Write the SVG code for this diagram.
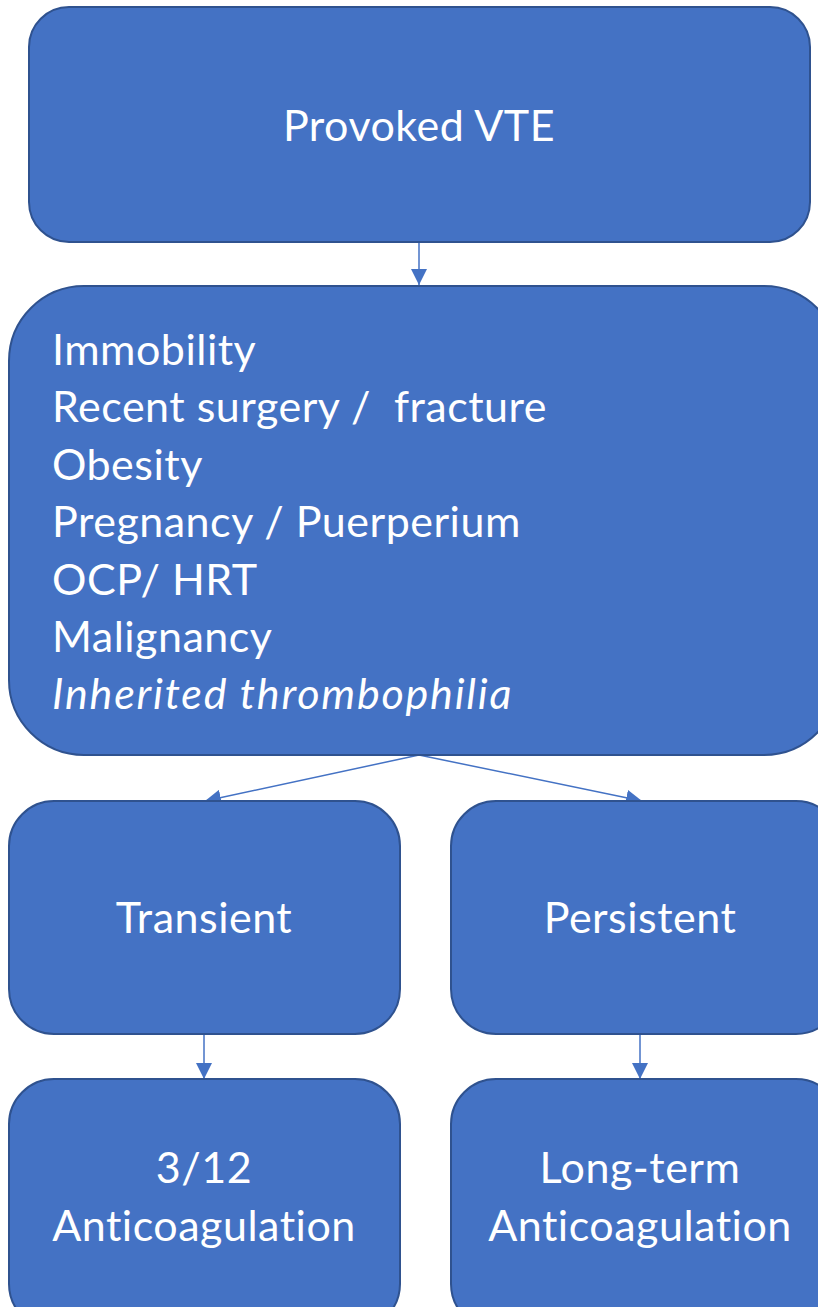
<svg xmlns="http://www.w3.org/2000/svg" width="818" height="1307" viewBox="0 0 818 1307">
<defs>
<style>
.box{fill:#4472C4;stroke:#2F528F;stroke-width:2}
.t{fill:#fff;font-family:Lato,"Open Sans","Liberation Sans",sans-serif;font-size:43px;letter-spacing:0.5px;font-variant-ligatures:none}
.c{text-anchor:middle}
.ln{stroke:#4472C4;stroke-width:1.5;fill:none}
</style>
<marker id="ah2" viewBox="0 0 16 16" refX="16" refY="8" markerWidth="16" markerHeight="16" markerUnits="userSpaceOnUse" orient="auto">
<path d="M0,0L16,8L0,16Z" fill="#4472C4"/>
</marker>
</defs>
<g id="connectors">
<line class="ln" x1="419" y1="243" x2="419" y2="285" marker-end="url(#ah2)"/>
<line class="ln" x1="419" y1="755" x2="205" y2="801" marker-end="url(#ah2)"/>
<line class="ln" x1="419" y1="755" x2="642" y2="801" marker-end="url(#ah2)"/>
<line class="ln" x1="204" y1="1034" x2="204" y2="1079" marker-end="url(#ah2)"/>
<line class="ln" x1="640" y1="1034" x2="640" y2="1079" marker-end="url(#ah2)"/>
</g>
<g id="provoked">
<rect class="box" x="29" y="7" width="781" height="235" rx="40"/>
<text class="t c" x="419" y="141">Provoked VTE</text>
</g>
<g id="factors">
<rect class="box" x="9" y="286" width="830" height="469" rx="75"/>
<text class="t" x="52" y="365">Immobility</text>
<text class="t" x="52" y="422" xml:space="preserve">Recent surgery /  fracture</text>
<text class="t" x="52" y="480">Obesity</text>
<text class="t" x="52" y="537">Pregnancy / Puerperium</text>
<text class="t" x="52" y="595">OCP/ HRT</text>
<text class="t" x="52" y="652">Malignancy</text>
<text class="t" x="52" y="709" font-style="italic" textLength="460" lengthAdjust="spacing">Inherited thrombophilia</text>
</g>
<g id="transient">
<rect class="box" x="9" y="801" width="391" height="233" rx="45"/>
<text class="t c" x="204" y="933">Transient</text>
</g>
<g id="persistent">
<rect class="box" x="451" y="801" width="390" height="233" rx="45"/>
<text class="t c" x="640" y="933">Persistent</text>
</g>
<g id="short">
<rect class="box" x="9" y="1079" width="391" height="250" rx="45"/>
<text class="t c" x="204" y="1183">3/12</text>
<text class="t c" x="204" y="1241">Anticoagulation</text>
</g>
<g id="long">
<rect class="box" x="451" y="1079" width="390" height="250" rx="45"/>
<text class="t c" x="640" y="1183">Long-term</text>
<text class="t c" x="640" y="1241">Anticoagulation</text>
</g>
</svg>
